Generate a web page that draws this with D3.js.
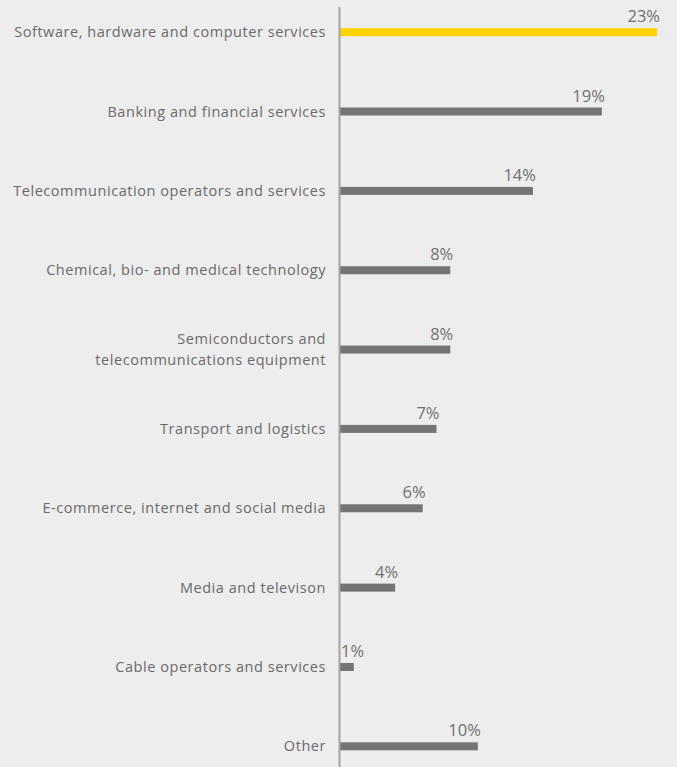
<!DOCTYPE html>
<html>
<head>
<meta charset="utf-8">
<script src="https://cdn.jsdelivr.net/npm/d3@7"></script>
<style>
  html, body { margin: 0; padding: 0; background: #ededed; }
  svg { display: block; }
  text { font-family: "Open Sans", sans-serif; fill: #6a6a6a; }
</style>
</head>
<body>
<div class="graph"></div>
<script>
// data
var categories = [
  "Software, hardware and computer services",
  "Banking and financial services",
  "Telecommunication operators and services",
  "Chemical, bio- and medical technology",
  "Semiconductors and\ntelecommunications equipment",
  "Transport and logistics",
  "E-commerce, internet and social media",
  "Media and televison",
  "Cable operators and services",
  "Other"
];
var shares = [23, 19, 14, 8, 8, 7, 6, 4, 1, 10];
var highlight = [true, false, false, false, false, false, false, false, false, false];

var width = 677, height = 767;
var axisX = 339.5;

var svg = d3.select("div.graph").append("svg")
    .attr("width", width)
    .attr("height", height);

// ranges
var x = d3.scaleLinear().domain([0, 23]).range([axisX + 0.5, 657]);
var y = d3.scaleBand().domain(d3.range(categories.length))
    .range([-7.5, 786]).paddingInner(0).align(0.5);

// bars
svg.selectAll("rect.bar")
  .data(shares)
  .enter().append("rect")
    .attr("class", "bar")
    .attr("x", x(0))
    .attr("y", function(d, i) { return y(i) + y.bandwidth() / 2 - 4; })
    .attr("width", function(d) { return x(d) - x(0); })
    .attr("height", 8)
    .attr("fill", function(d, i) { return highlight[i] ? "#ffd200" : "#747474"; });

// value labels
svg.selectAll("text.val")
  .data(shares)
  .enter().append("text")
    .attr("class", "val")
    .attr("x", function(d) { return d < 3 ? x(0) + 1 : x(d) + 3; })
    .attr("y", function(d, i) { return y(i) + y.bandwidth() / 2 - 10; })
    .attr("text-anchor", function(d) { return d < 3 ? "start" : "end"; })
    .style("font-size", "16.5px")
    .style("fill", "#707070")
    .text(function(d) { return d + "%"; });

// category labels
var labels = svg.selectAll("text.cat")
  .data(categories)
  .enter().append("text")
    .attr("class", "cat")
    .attr("text-anchor", "end")
    .style("font-size", "14.5px")
    .style("letter-spacing", "0.55px")
    .attr("transform", function(d, i) {
      return "translate(326," + (y(i) + y.bandwidth() / 2) + ")";
    });

labels.each(function(d) {
  var lines = d.split("\n");
  var el = d3.select(this);
  lines.forEach(function(line, k) {
    el.append("tspan")
      .attr("x", 0)
      .attr("y", (k - (lines.length - 1) / 2) * 21 + 5)
      .text(line);
  });
});

// axis line
svg.append("line")
    .attr("x1", axisX).attr("x2", axisX)
    .attr("y1", 7).attr("y2", height)
    .attr("stroke", "#a3a3a3")
    .attr("stroke-width", 2);
</script>
</body>
</html>
